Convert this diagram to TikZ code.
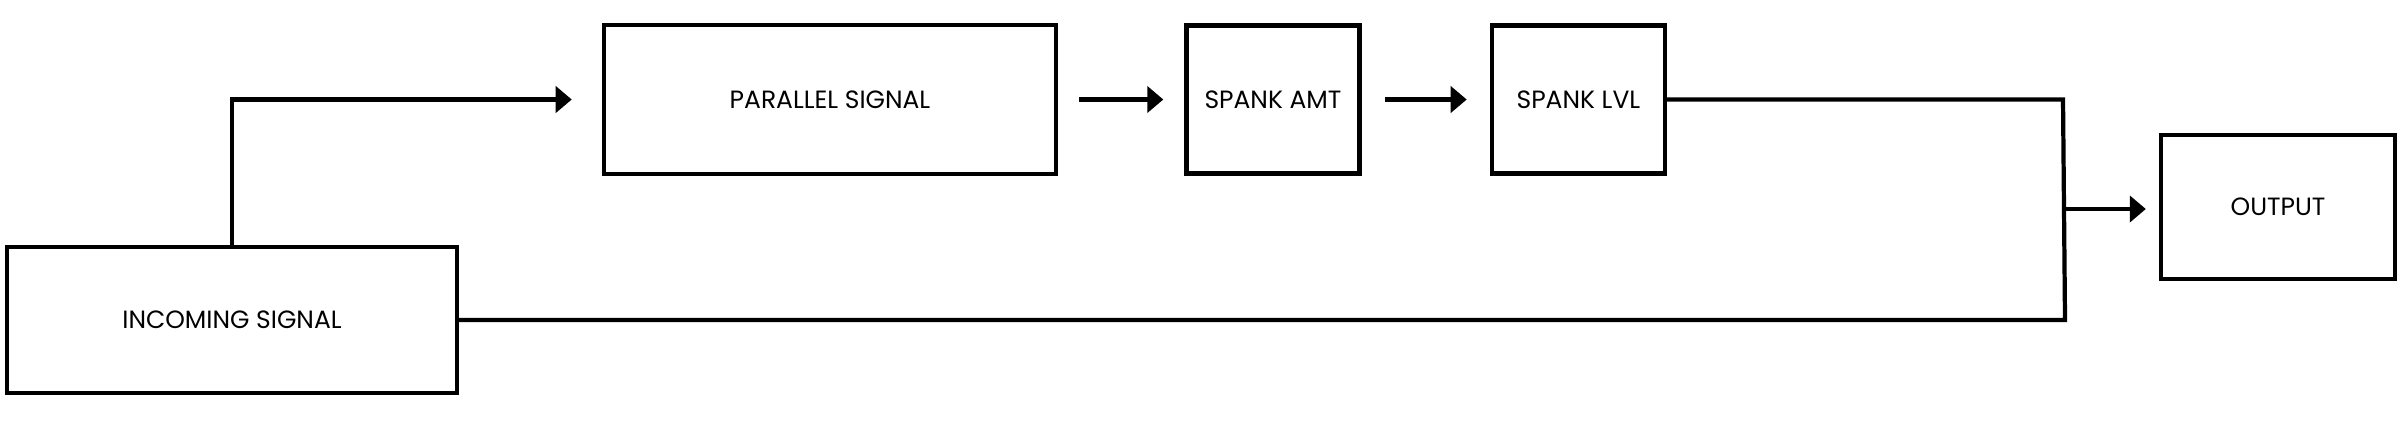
\documentclass[tikz,border=0pt]{standalone}
\usepackage{fontspec}
\setmainfont{Poppins}
\usetikzlibrary{arrows.meta,positioning}

\begin{document}
\begin{tikzpicture}[x=0.01cm, y=-0.01cm,
	block/.style={draw, rectangle, line width=1.2pt, inner sep=0pt, minimum height=1.48cm, font=\fontsize{7.1}{8.5}\selectfont},
	link/.style={line width=1.2pt},
	flow/.style={link, -{Triangle[length=0.16cm, width=0.26cm]}}]
					\useasboundingbox (0,0) rectangle (2400,423);

					\node[block, minimum width=4.5cm, minimum height=1.46cm] (incoming) at (232,320) {INCOMING SIGNAL};
					\node[block, minimum width=4.52cm, minimum height=1.49cm] (parallel) at (830,99.5) {PARALLEL SIGNAL};
					\node[block, minimum width=1.73cm] (amt)[right=1.26cm of parallel] {SPANK AMT};
					\node[block, minimum width=1.73cm] (lvl)[right=1.28cm of amt] {SPANK LVL};
					\node[block, minimum width=2.34cm, minimum height=1.44cm] (output) at (2278,207) {OUTPUT};

					\coordinate (jtop) at (2063,99.5);
					\coordinate (jbot) at (2065,320);
					\coordinate (jmid) at (2064,209);

					\draw[flow, shorten >=0.3cm] (incoming.north) |- (parallel.west);
					\draw[flow, shorten <=0.21cm, shorten >=0.21cm] (parallel) -- (amt);
					\draw[flow, shorten <=0.23cm, shorten >=0.23cm] (amt) -- (lvl);
					\draw[link] (lvl.east) -- (jtop) -- (jbot) -- (incoming.east);
					\draw[flow, shorten >=0.13cm] (jmid) -- (jmid -| output.west);
				\end{tikzpicture}
\end{document}
